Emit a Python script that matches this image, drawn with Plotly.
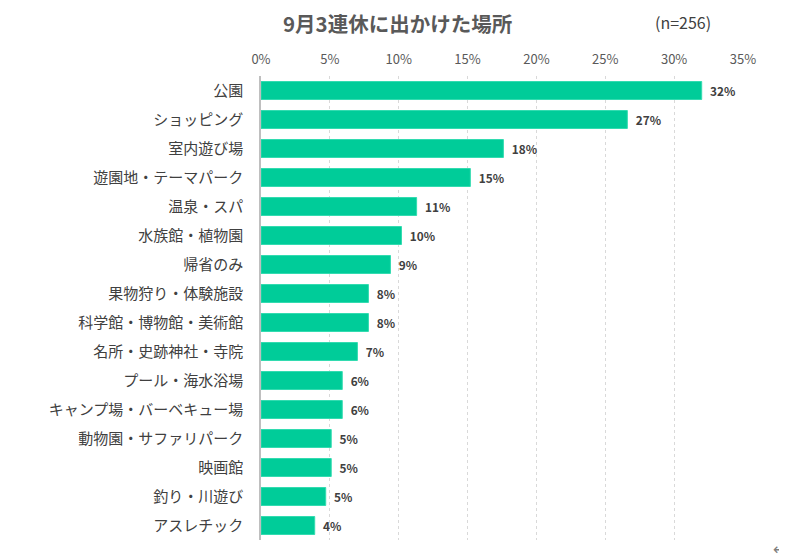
import plotly.graph_objects as go

# 9月3連休に出かけた場所 (n=256)
places = ["公園", "ショッピング", "室内遊び場", "遊園地・テーマパーク", "温泉・スパ",
          "水族館・植物園", "帰省のみ", "果物狩り・体験施設", "科学館・博物館・美術館",
          "名所・史跡神社・寺院", "プール・海水浴場", "キャンプ場・バーベキュー場",
          "動物園・サファリパーク", "映画館", "釣り・川遊び", "アスレチック"]
share = [32.0, 26.6, 17.6, 15.2, 11.3, 10.2, 9.4, 7.8, 7.8, 7.0, 5.9, 5.9, 5.1, 5.1, 4.7, 3.9]
x_ticks = [0, 5, 10, 15, 20, 25, 30, 35]

FONT = "Noto Sans CJK JP"
labels = [f"  {round(v)}%" for v in share]

# page body has an 8px margin, so the figure sits at (8, 8);
# shrink it so it fits the 787x558 window exactly
OFF = 8
W, H = 787 - OFF, 558 - OFF
L, R, T, B = 261 - OFF, 787 - 743, 76 - OFF, 558 - 540
PW, PH = W - L - R, H - T - B


def to_paper(px, py):
    # window pixel -> paper coords
    return (px - OFF - L) / PW, 1 - (py - OFF - T) / PH


fig = go.Figure(go.Bar(
    x=share, y=places, orientation="h",
    marker=dict(color="#00cc99", line=dict(color="#33dbb0", width=1)),
    text=labels, textposition="outside",
    textfont=dict(family=FONT, size=12.5, color="#404040", weight="bold"),
    cliponaxis=False, width=0.62,
))

notes = [("<b>9月3連休に出かけた場所</b>", 397, 23, 20.5, "#595959", FONT),
         ("(n=256)", 683, 22, 16, "#404040", FONT),
         ("↵", 779, 549, 16, "#7f7f7f", "DejaVu Sans")]
annotations = []
for txt, px, py, size, col, fam in notes:
    ax, ay = to_paper(px, py)
    annotations.append(dict(text=txt, x=ax, y=ay, xref="paper", yref="paper",
                            xanchor="center", yanchor="middle", showarrow=False,
                            borderpad=0, font=dict(size=size, color=col, family=fam)))

fig.update_layout(
    width=W, height=H,
    margin=dict(l=L, r=R, t=T, b=B, autoexpand=False),
    plot_bgcolor="white", paper_bgcolor="white",
    font=dict(family=FONT, color="#404040"),
    showlegend=False,
    annotations=annotations,
)

fig.update_xaxes(
    side="top", range=[0, 35], tickvals=x_ticks,
    ticktext=[f"{t}%" for t in x_ticks],
    tickfont=dict(size=13, color="#595959"),
    showgrid=True, gridcolor="#d9d9d9", griddash="dot", gridwidth=1,
    zeroline=False, showline=False, ticks="", ticklabelstandoff=8,
)
fig.update_yaxes(
    autorange="reversed", tickfont=dict(size=15, color="#404040"),
    showline=True, linecolor="#bfbfbf", linewidth=1.5,
    ticks="outside", ticklen=13, tickcolor="white",
)

fig.write_html("out.html")
